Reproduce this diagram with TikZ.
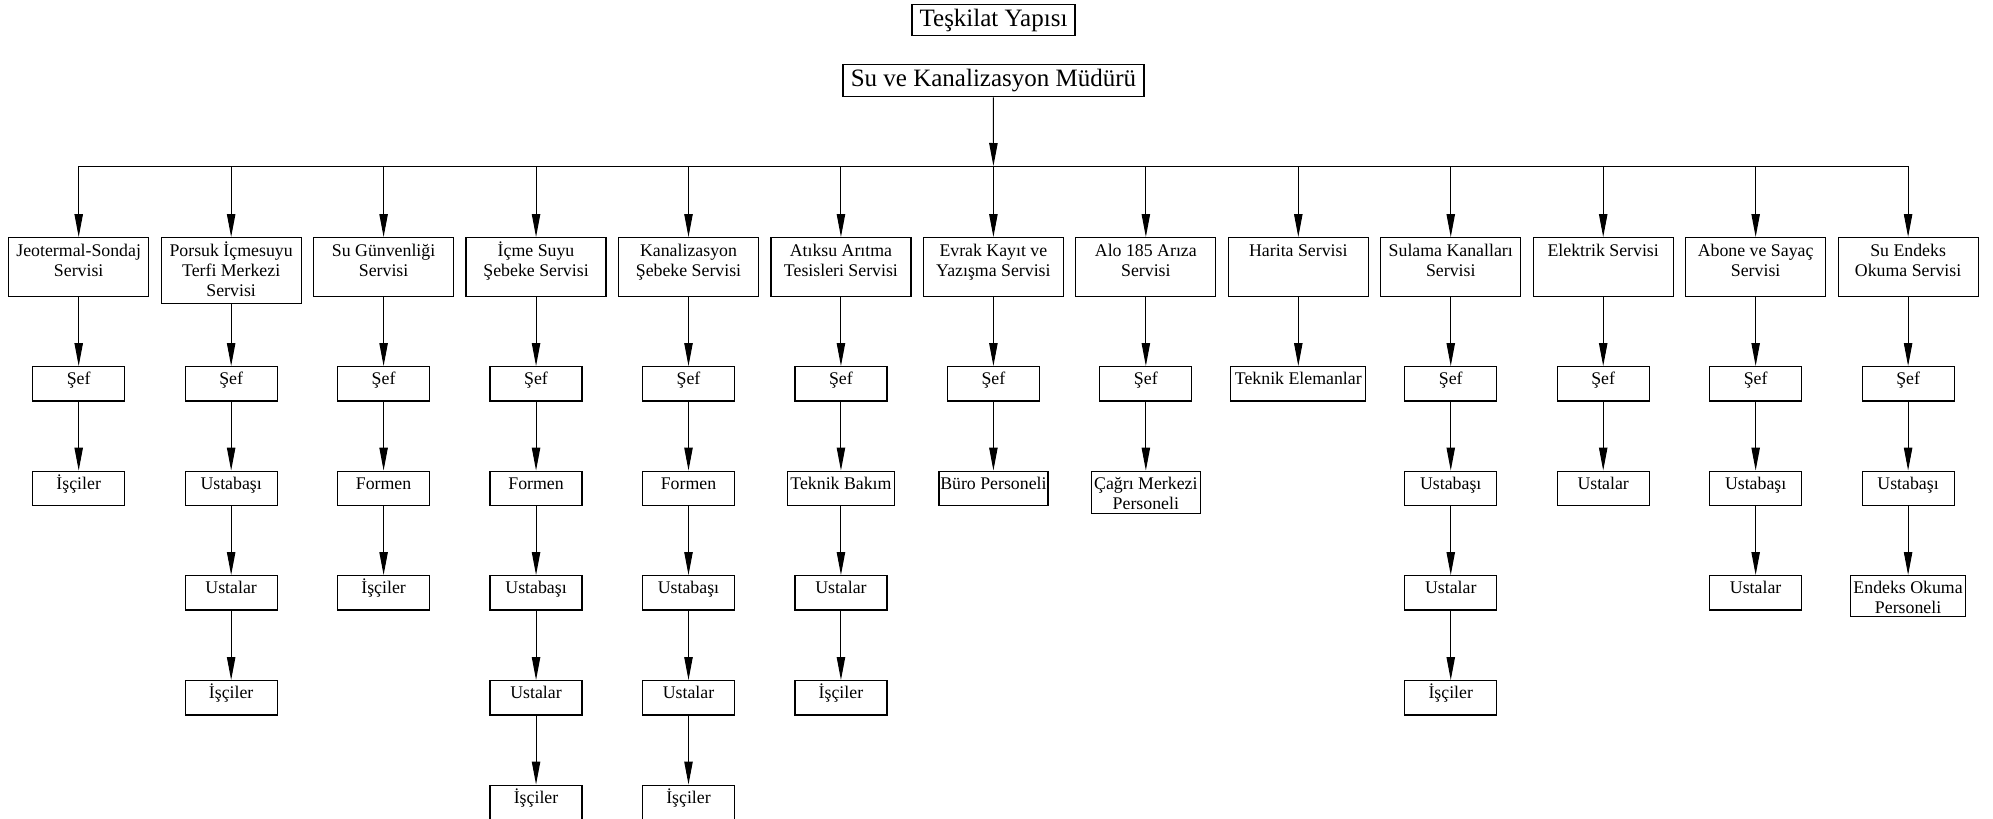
\documentclass[tikz,border=0pt]{standalone}
\usepackage{fontspec}
\setmainfont{Liberation Serif}
\usetikzlibrary{arrows.meta}
\newcommand{\tb}[1]{\begin{tabular}[t]{@{}c@{}}#1\end{tabular}}
\tikzset{
  orgbx/.style={draw, line width=0.6pt, inner sep=0pt, anchor=north, text height=9pt, font=\fontsize{8.9}{10}\selectfont},
  svcbx/.style={orgbx, minimum width=70pt, text height=9.5pt, text depth=20pt},
  lvlbx/.style={orgbx, minimum width=46pt, text depth=8.2pt},
  topbx/.style={draw, line width=0.6pt, inner sep=0pt, font=\fontsize{12.5}{14}\selectfont},
  arr/.style={line width=0.5pt, -{Triangle[length=11.5pt,width=4.2pt]}},
  busln/.style={line width=0.5pt}
}
\begin{document}
\begin{tikzpicture}[x=0.5pt,y=-0.5pt]
\useasboundingbox (0,0) rectangle (1993,819);
% top
\node[topbx, minimum width=81.5pt, minimum height=15.3pt] (title) at (993.5,20) {Teşkilat Yapısı};
\node[topbx, minimum width=150.5pt, minimum height=16pt] (mudur) at (993.5,80.7) {Su ve Kanalizasyon Müdürü};
\coordinate (bus) at (993.4,166);
% services
\node[svcbx] (s0) at (78.7,237) {\tb{Jeotermal-Sondaj\\Servisi}};
\node[svcbx, text depth=23.5pt] (s1) at (231.15,237) {\tb{Porsuk İçmesuyu\\Terfi Merkezi\\Servisi}};
\node[svcbx] (s2) at (383.6,237) {\tb{Su Günvenliği\\Servisi}};
\node[svcbx] (s3) at (536.05,237) {\tb{İçme Suyu\\Şebeke Servisi}};
\node[svcbx] (s4) at (688.5,237) {\tb{Kanalizasyon\\Şebeke Servisi}};
\node[svcbx] (s5) at (840.95,237) {\tb{Atıksu Arıtma\\Tesisleri Servisi}};
\node[svcbx] (s6) at (993.4,237) {\tb{Evrak Kayıt ve\\Yazışma Servisi}};
\node[svcbx] (s7) at (1145.85,237) {\tb{Alo 185 Arıza\\Servisi}};
\node[svcbx] (s8) at (1298.3,237) {\tb{Harita Servisi}};
\node[svcbx] (s9) at (1450.75,237) {\tb{Sulama Kanalları\\Servisi}};
\node[svcbx] (s10) at (1603.2,237) {\tb{Elektrik Servisi}};
\node[svcbx] (s11) at (1755.65,237) {\tb{Abone ve Sayaç\\Servisi}};
\node[svcbx] (s12) at (1908.1,237) {\tb{Su Endeks\\Okuma Servisi}};
% column 0
\node[lvlbx] (a1) at (78.7,366) {Şef};
\node[lvlbx] (a2) at (78.7,470.5) {İşçiler};
% column 1
\node[lvlbx] (b1) at (231.15,366) {Şef};
\node[lvlbx] (b2) at (231.15,470.5) {Ustabaşı};
\node[lvlbx] (b3) at (231.15,575) {Ustalar};
\node[lvlbx] (b4) at (231.15,680) {İşçiler};
% column 2
\node[lvlbx] (c1) at (383.6,366) {Şef};
\node[lvlbx] (c2) at (383.6,470.5) {Formen};
\node[lvlbx] (c3) at (383.6,575) {İşçiler};
% column 3
\node[lvlbx] (d1) at (536.05,366) {Şef};
\node[lvlbx] (d2) at (536.05,470.5) {Formen};
\node[lvlbx] (d3) at (536.05,575) {Ustabaşı};
\node[lvlbx] (d4) at (536.05,680) {Ustalar};
\node[lvlbx] (d5) at (536.05,784.5) {İşçiler};
% column 4
\node[lvlbx] (e1) at (688.5,366) {Şef};
\node[lvlbx] (e2) at (688.5,470.5) {Formen};
\node[lvlbx] (e3) at (688.5,575) {Ustabaşı};
\node[lvlbx] (e4) at (688.5,680) {Ustalar};
\node[lvlbx] (e5) at (688.5,784.5) {İşçiler};
% column 5
\node[lvlbx] (f1) at (840.95,366) {Şef};
\node[lvlbx, minimum width=53.5pt] (f2) at (840.95,470.5) {Teknik Bakım};
\node[lvlbx] (f3) at (840.95,575) {Ustalar};
\node[lvlbx] (f4) at (840.95,680) {İşçiler};
% column 6
\node[lvlbx] (g1) at (993.4,366) {Şef};
\node[lvlbx, minimum width=54.5pt] (g2) at (993.4,470.5) {Büro Personeli};
% column 7
\node[lvlbx] (h1) at (1145.85,366) {Şef};
\node[lvlbx, minimum width=54.5pt, text depth=12.3pt] (h2) at (1145.85,470.5) {\tb{Çağrı Merkezi\\Personeli}};
% column 8
\node[lvlbx, minimum width=67.5pt] (i1) at (1298.3,366) {Teknik Elemanlar};
% column 9
\node[lvlbx] (j1) at (1450.75,366) {Şef};
\node[lvlbx] (j2) at (1450.75,470.5) {Ustabaşı};
\node[lvlbx] (j3) at (1450.75,575) {Ustalar};
\node[lvlbx] (j4) at (1450.75,680) {İşçiler};
% column 10
\node[lvlbx] (k1) at (1603.2,366) {Şef};
\node[lvlbx] (k2) at (1603.2,470.5) {Ustalar};
% column 11
\node[lvlbx] (l1) at (1755.65,366) {Şef};
\node[lvlbx] (l2) at (1755.65,470.5) {Ustabaşı};
\node[lvlbx] (l3) at (1755.65,575) {Ustalar};
% column 12
\node[lvlbx] (m1) at (1908.1,366) {Şef};
\node[lvlbx] (m2) at (1908.1,470.5) {Ustabaşı};
\node[lvlbx, minimum width=57.5pt, text depth=11.3pt] (m3) at (1908.1,575) {\tb{Endeks Okuma\\Personeli}};
% connectors
\draw[arr] (mudur) -- (bus);
\draw[busln] (s0.north |- bus) -- (s12.north |- bus);
\foreach \i in {0,...,12} { \draw[arr] (s\i.north |- bus) -- (s\i.north); }
\draw[arr] (s0) -- (a1); \draw[arr] (a1) -- (a2);
\draw[arr] (s1) -- (b1); \draw[arr] (b1) -- (b2); \draw[arr] (b2) -- (b3); \draw[arr] (b3) -- (b4);
\draw[arr] (s2) -- (c1); \draw[arr] (c1) -- (c2); \draw[arr] (c2) -- (c3);
\draw[arr] (s3) -- (d1); \draw[arr] (d1) -- (d2); \draw[arr] (d2) -- (d3); \draw[arr] (d3) -- (d4); \draw[arr] (d4) -- (d5);
\draw[arr] (s4) -- (e1); \draw[arr] (e1) -- (e2); \draw[arr] (e2) -- (e3); \draw[arr] (e3) -- (e4); \draw[arr] (e4) -- (e5);
\draw[arr] (s5) -- (f1); \draw[arr] (f1) -- (f2); \draw[arr] (f2) -- (f3); \draw[arr] (f3) -- (f4);
\draw[arr] (s6) -- (g1); \draw[arr] (g1) -- (g2);
\draw[arr] (s7) -- (h1); \draw[arr] (h1) -- (h2);
\draw[arr] (s8) -- (i1);
\draw[arr] (s9) -- (j1); \draw[arr] (j1) -- (j2); \draw[arr] (j2) -- (j3); \draw[arr] (j3) -- (j4);
\draw[arr] (s10) -- (k1); \draw[arr] (k1) -- (k2);
\draw[arr] (s11) -- (l1); \draw[arr] (l1) -- (l2); \draw[arr] (l2) -- (l3);
\draw[arr] (s12) -- (m1); \draw[arr] (m1) -- (m2); \draw[arr] (m2) -- (m3);
\end{tikzpicture}
\end{document}
